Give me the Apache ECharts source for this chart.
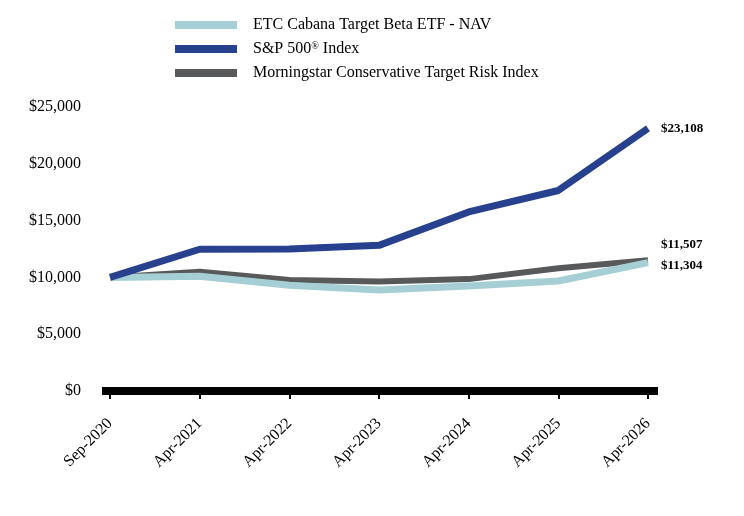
<!DOCTYPE html>
<html>
<head>
<meta charset="utf-8">
<script src="https://cdn.jsdelivr.net/npm/echarts@6/dist/echarts.min.js"></script>
<style>
  html, body { margin: 0; padding: 0; background: #fff; }
  #chart { width: 744px; height: 516px; }
</style>
</head>
<body>
<div id="chart"></div>
<script>
// data
var categories = ['Sep-2020', 'Apr-2021', 'Apr-2022', 'Apr-2023', 'Apr-2024', 'Apr-2025', 'Apr-2026']
var etcNav = [10000, 10100, 9300, 8900, 9250, 9680, 11304]
var sp500 = [10000, 12480, 12500, 12820, 15760, 17650, 23108]
var morningstar = [10000, 10500, 9770, 9650, 9850, 10800, 11507]

var seriesNames = ['ETC Cabana Target Beta ETF - NAV', 'S&P 500® Index', 'Morningstar Conservative Target Risk Index']
var colors = ['#A6CFD5', '#27418E', '#58595B']

var font = '"Liberation Serif", "Times New Roman", serif'
var chart = echarts.init(document.getElementById('chart'))

function money(v) {
  return '$' + v.toLocaleString('en-US')
}

function endLabel(dy) {
  return {
    show: true,
    formatter: function (p) { return money(p.value) },
    fontFamily: font,
    fontWeight: 'bold',
    fontSize: 13,
    color: '#000',
    distance: 13,
    offset: [0, dy]
  }
}

var option = {
  animation: false,
  textStyle: { fontFamily: font },
  legend: {
    orient: 'vertical',
    left: 175,
    top: 17,
    padding: 0,
    itemWidth: 62,
    itemHeight: 8,
    itemGap: 8,
    icon: 'rect',
    formatter: function (name) {
      // superscript the registered mark
      if (name.indexOf('®') > -1) {
        var parts = name.split('®')
        return '{t|' + parts[0] + '}{sup|®}{t|' + parts[1] + '}'
      }
      return '{t|' + name + '}'
    },
    textStyle: {
      fontFamily: font,
      fontSize: 16,
      color: '#000',
      padding: [0, 0, 0, 11],
      rich: {
        t: { fontFamily: font, fontSize: 16, color: '#000' },
        sup: { fontFamily: font, fontSize: 10, color: '#000', verticalAlign: 'top', padding: [0, 0, 6, 0] }
      }
    },
    data: seriesNames.map(function (n, i) {
      return { name: n, itemStyle: { color: colors[i] } }
    })
  },
  grid: [
    { left: 110, right: 96, top: 107, bottom: 125 },
    { left: 102, right: 86, top: 107, bottom: 125 }
  ],
  xAxis: [
    {
      type: 'category',
      data: categories,
      boundaryGap: false,
      gridIndex: 0,
      axisLine: { show: false },
      axisTick: { show: true, length: 8, lineStyle: { color: '#000', width: 2 } },
      axisLabel: { rotate: 45, margin: 30, fontFamily: font, fontSize: 16, color: '#000' }
    },
    {
      type: 'value',
      gridIndex: 1,
      min: 0,
      max: 1,
      axisLine: { show: true, lineStyle: { color: '#000', width: 8, cap: 'butt' } },
      axisTick: { show: false },
      axisLabel: { show: false },
      splitLine: { show: false }
    }
  ],
  yAxis: [
    {
      type: 'value',
      gridIndex: 0,
      min: 0,
      max: 25000,
      interval: 5000,
      axisLine: { show: false },
      axisTick: { show: false },
      splitLine: { show: false },
      axisLabel: {
        margin: 29,
        fontFamily: font,
        fontSize: 16,
        color: '#000',
        formatter: money
      }
    },
    {
      type: 'value',
      gridIndex: 1,
      min: 0,
      max: 1,
      show: false
    }
  ],
  series: [
    {
      name: seriesNames[0],
      type: 'line',
      data: etcNav,
      z: 3,
      symbol: 'none',
      lineStyle: { color: colors[0], width: 7, join: 'round', cap: 'butt' },
      itemStyle: { color: colors[0] },
      endLabel: endLabel(3)
    },
    {
      name: seriesNames[1],
      type: 'line',
      data: sp500,
      z: 4,
      symbol: 'none',
      lineStyle: { color: colors[1], width: 7, join: 'round', cap: 'butt' },
      itemStyle: { color: colors[1] },
      endLabel: endLabel(0)
    },
    {
      name: seriesNames[2],
      type: 'line',
      data: morningstar,
      z: 2,
      symbol: 'none',
      lineStyle: { color: colors[2], width: 6, join: 'round', cap: 'butt' },
      itemStyle: { color: colors[2] },
      endLabel: endLabel(-16)
    }
  ]
}

chart.setOption(option)
</script>
</body>
</html>
